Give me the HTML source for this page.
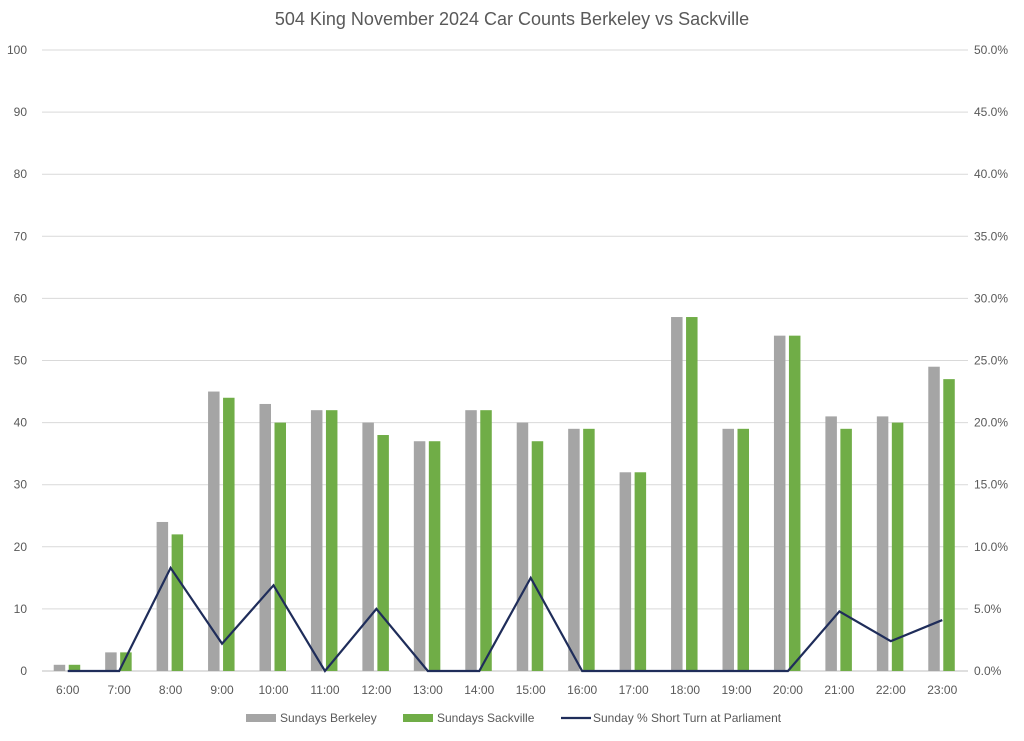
<!DOCTYPE html>
<html><head><meta charset="utf-8"><style>
body{margin:0;background:#fff;}
svg text{font-family:"Liberation Sans",sans-serif;fill:#595959;}
</style></head><body>
<svg width="1024" height="736">
<text x="512" y="25" text-anchor="middle" font-size="18">504 King November 2024 Car Counts Berkeley vs Sackville</text>
<g id="grid"></g><g id="bars"></g><g id="line"></g><g id="axes"></g>
<g>
<rect x="246" y="714" width="30" height="8" fill="#a5a5a5"/>
<text x="280" y="722" font-size="12">Sundays Berkeley</text>
<rect x="403" y="714" width="30" height="8" fill="#70ad47"/>
<text x="437" y="722" font-size="12">Sundays Sackville</text>
<line x1="561" y1="718" x2="591" y2="718" stroke="#1f2d5a" stroke-width="2.2"/>
<text x="593" y="722" font-size="12">Sunday % Short Turn at Parliament</text>
</g>
</svg>
<script>
const categories=["6:00","7:00","8:00","9:00","10:00","11:00","12:00","13:00","14:00","15:00","16:00","17:00","18:00","19:00","20:00","21:00","22:00","23:00"];
const berkeley=[1,3,24,45,43,42,40,37,42,40,39,32,57,39,54,41,41,49];
const sackville=[1,3,22,44,40,42,38,37,42,37,39,32,57,39,54,39,40,47];
const shortTurnPct=[0,0,8.3,2.2,6.9,0,5.0,0,0,7.5,0,0,0,0,0,4.8,2.4,4.1];
const leftTicks=[0,10,20,30,40,50,60,70,80,90,100];
const rightTicks=["0.0%","5.0%","10.0%","15.0%","20.0%","25.0%","30.0%","35.0%","40.0%","45.0%","50.0%"];
const NS="http://www.w3.org/2000/svg";
const L=42,R=968,T=50,B=671,step=(R-L)/categories.length;
const y=v=>B-(v/100)*(B-T);
const y2=p=>B-(p/50)*(B-T);
const cx=i=>L+step*(i+0.5);
function mk(tag,attrs,parent){const e=document.createElementNS(NS,tag);for(const k in attrs)e.setAttribute(k,attrs[k]);document.getElementById(parent).appendChild(e);return e;}
leftTicks.forEach((v,i)=>{
 const g=mk("line",{x1:L,x2:R,y1:y(v),y2:y(v),stroke:v===0?"#bfbfbf":"#d9d9d9","stroke-width":1},"grid");
 
 
 const t=mk("text",{x:27,y:y(v)+4,"text-anchor":"end","font-size":12},"axes");t.textContent=v;
 
 
 const t2=mk("text",{x:974,y:y(v)+4,"font-size":12},"axes");t2.textContent=rightTicks[i];
 
 
});
categories.forEach((c,i)=>{
 const t=mk("text",{x:cx(i),y:694,"text-anchor":"middle","font-size":12},"axes");t.textContent=c;
 
 
 const b1=mk("rect",{x:cx(i)-14,y:y(berkeley[i]),width:11.5,height:B-y(berkeley[i]),fill:"#a5a5a5"},"bars");
 
 
 const b2=mk("rect",{x:cx(i)+1,y:y(sackville[i]),width:11.5,height:B-y(sackville[i]),fill:"#70ad47"},"bars");
 
 
});
const pl=mk("polyline",{points:shortTurnPct.map((p,i)=>cx(i)+","+y2(p)).join(" "),fill:"none",stroke:"#1f2d5a","stroke-width":2.2,"stroke-linejoin":"miter"},"line");


</script>
</body></html>
